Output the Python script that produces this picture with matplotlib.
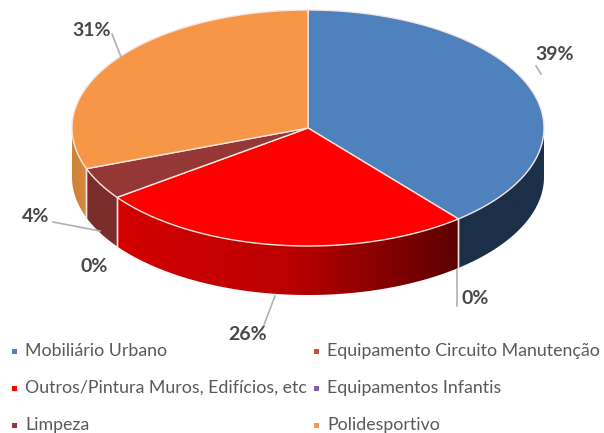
import numpy as np
import matplotlib
matplotlib.use("Agg")
import matplotlib.pyplot as plt
from matplotlib.colors import LinearSegmentedColormap
from matplotlib.patches import Polygon, Rectangle

plt.rcParams['font.family'] = ['Lato', 'DejaVu Sans']

categories = ['Mobiliário Urbano', 'Equipamento Circuito Manutenção',
              'Outros/Pintura Muros, Edifícios, etc', 'Equipamentos Infantis',
              'Limpeza', 'Polidesportivo']
values = [39.0, 0.0, 26.0, 0.0, 4.4, 30.6]
colors = ['#4f81bd', '#c0504d', '#ff0000', '#8064a2', '#953735', '#f79646']
# gradient stops for the side wall of each slice, left to right
wall_colors = [['#1c3048', '#1c3048'], ['#7a3230', '#7a3230'],
               ['#d40000', '#bb0000', '#5c0000'], ['#504068', '#504068'],
               ['#7a2e2c', '#7a2e2c'], ['#cc8238', '#d88a40']]

# pie geometry in pixels
cx, cy = 308, 128
rx, ry = 236, 118
depth = 49
EDGE = '#f6e6e2'


def rim(a0, a1, n=200):
    # angle is clockwise from the top of the pie, in degrees
    t = np.radians(np.linspace(a0, a1, n))
    return cx + rx * np.sin(t), cy - ry * np.cos(t)


fig = plt.figure(figsize=(6.04, 4.33), dpi=100)
ax = fig.add_axes([0, 0, 1, 1])

edges = np.concatenate([[0], np.cumsum(values) / sum(values) * 360])

# side walls, only the front half (90..270 deg) can be seen
for i in range(len(values)):
    a0, a1 = max(edges[i], 90), min(edges[i + 1], 270)
    if a1 <= a0:
        continue
    x, y = rim(a0, a1)
    pts = np.column_stack([np.r_[x, x[::-1]], np.r_[y, y[::-1] + depth]])
    cmap = LinearSegmentedColormap.from_list('wall', wall_colors[i])
    im = ax.imshow(np.linspace(0, 1, 256)[None, :], cmap=cmap, aspect='auto',
                   extent=[x.min(), x.max(), y.max() + depth, y.min()], zorder=2)
    clip = Polygon(pts, transform=ax.transData, fc='none', ec='none')
    ax.add_patch(clip)
    im.set_clip_path(clip)
    for k, a in ((0, a0), (-1, a1)):
        if 90 < a < 270:
            ax.plot([x[k], x[k]], [y[k], y[k] + depth], color=EDGE, lw=1, zorder=3)

ax.set_xlim(0, 604)
ax.set_ylim(433, 0)
ax.axis('off')

# top surface
for i in range(len(values)):
    if values[i] == 0:
        continue
    x, y = rim(edges[i], edges[i + 1])
    pts = np.column_stack([np.r_[cx, x], np.r_[cy, y]])
    ax.add_patch(Polygon(pts, closed=True, fc=colors[i], ec=EDGE, lw=1, zorder=4))

# data labels: text position and leader line
labels = [f'{v:.0f}%' for v in values]
label_pos = {0: (555, 55), 1: (475, 299), 2: (248, 334), 3: (94, 267), 4: (36, 217), 5: (92, 31)}
leaders = {0: [(536, 66), (541, 74)],
           1: [(457, 270), (457, 306)],
           2: [(275, 296), (262, 330)],
           4: [(53, 222), (100, 231)],
           5: [(112, 34), (121, 57)]}
for i, (p0, p1) in leaders.items():
    ax.plot([p0[0], p1[0]], [p0[1], p1[1]], color='#b0b0b0', lw=1.2, zorder=5)
for i, lab in enumerate(labels):
    ax.text(*label_pos[i], lab, fontsize=14, fontweight='bold', color='#484848',
            ha='center', va='center', zorder=6)

# legend
leg_rows = [351, 388, 425]
for i, name in enumerate(categories):
    row = i // 2
    mx, tx = (14.5, 25) if i % 2 == 0 else (316, 327)
    ax.add_patch(Rectangle((mx - 2.5, leg_rows[row] - 2.5), 5, 5, fc=colors[i], ec='none', zorder=6))
    ax.text(tx, leg_rows[row], name, fontsize=12.8, color='#595959', ha='left',
            va='center', zorder=6)

fig.savefig('out.png', dpi=100)
